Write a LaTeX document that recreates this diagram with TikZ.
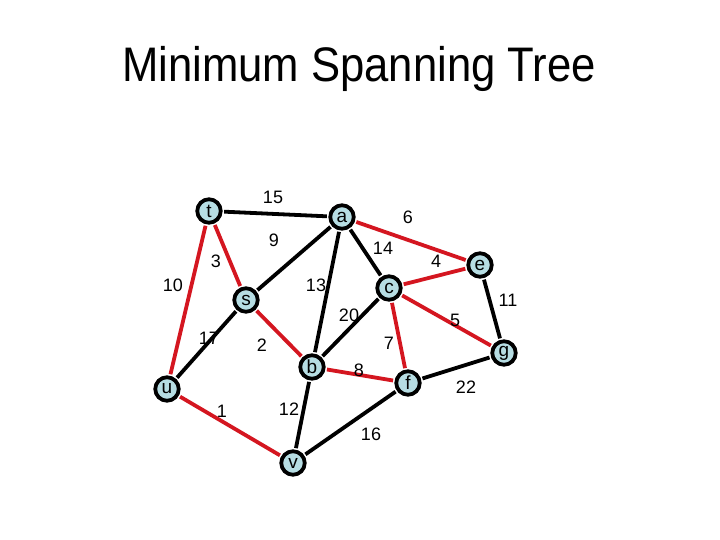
\documentclass[tikz,border=0pt]{standalone}
\usepackage{fontspec}
\setmainfont{Liberation Sans}
\definecolor{nodefill}{RGB}{182,221,227}
\definecolor{mstred}{RGB}{212,22,32}
\begin{document}
\begin{tikzpicture}[x=1pt,y=-1pt,
  vert/.style={circle,draw=black,line width=3.8pt,fill=nodefill,minimum size=23.5pt,inner sep=0pt,font=\fontsize{19}{19}\selectfont},
  wlab/.style={inner sep=0pt,font=\fontsize{18}{18}\selectfont},
  edge/.style={line width=3.8pt,shorten <=1.5pt,shorten >=1.5pt},
  tree/.style={edge,draw=mstred},
  plain/.style={edge,draw=black}]
\useasboundingbox (0,0) rectangle (720,540);
\node[inner sep=0pt,xscale=0.9,font=\fontsize{48.5}{50}\selectfont] (title) at (359,69) {Minimum Spanning Tree};
% vertices
\node[vert] (t) at (209,211) {t};
\node[vert] (a) at (342,217) {a};
\node[vert] (s) at (246,300) {s};
\node[vert] (c) at (389,288) {c};
\node[vert] (e) at (480,265) {e};
\node[vert] (b) at (312,367) {b};
\node[vert] (f) at (408,383) {f};
\node[vert] (g) at (504,353) {g};
\node[vert] (u) at (167,389) {u};
\node[vert] (v) at (293,463) {v};
% tree edges
\draw[tree] (t) -- (s);
\draw[tree] (t) -- (u);
\draw[tree] (a) -- (e);
\draw[tree] (c) -- (e);
\draw[tree] (c) -- (g);
\draw[tree] (c) -- (f);
\draw[tree] (b) -- (f);
\draw[tree] (s) -- (b);
\draw[tree] (u) -- (v);
% other edges
\draw[plain] (t) -- (a);
\draw[plain] (a) -- (s);
\draw[plain] (a) -- (b);
\draw[plain] (a) -- (c);
\draw[plain] (c) -- (b);
\draw[plain] (s) -- (u);
\draw[plain] (b) -- (v);
\draw[plain] (v) -- (f);
\draw[plain] (f) -- (g);
\draw[plain] (e) -- (g);
% weights
\node[wlab] (w15) at (273,197) {15};
\node[wlab] (w6) at (408,217) {6};
\node[wlab] (w9) at (274,240) {9};
\node[wlab] (w14) at (383,248) {14};
\node[wlab] (w4) at (436,261) {4};
\node[wlab] (w3) at (216,261) {3};
\node[wlab] (w10) at (173,285) {10};
\node[wlab] (w13) at (316,285) {13};
\node[wlab] (w11) at (508,300) {11};
\node[wlab] (w20) at (349,315) {20};
\node[wlab] (w5) at (455,320) {5};
\node[wlab] (w17) at (209,338) {17};
\node[wlab] (w2) at (262,345) {2};
\node[wlab] (w7) at (389,343) {7};
\node[wlab] (w8) at (359,370) {8};
\node[wlab] (w22) at (466,387) {22};
\node[wlab] (w1) at (222,411) {1};
\node[wlab] (w12) at (289,409) {12};
\node[wlab] (w16) at (371,434) {16};
\end{tikzpicture}
\end{document}
